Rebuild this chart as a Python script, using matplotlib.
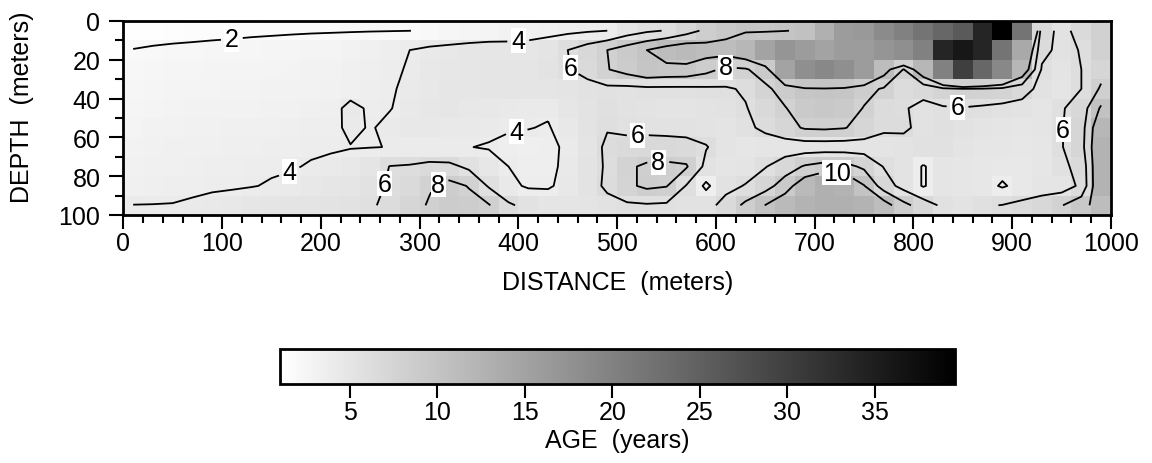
import numpy as np
import matplotlib
matplotlib.use('Agg')
import matplotlib.pyplot as plt
from matplotlib.ticker import MultipleLocator

plt.rcParams['font.family'] = ['Liberation Sans', 'DejaVu Sans']

# cell edges and centres (meters)
x_edges = np.arange(0, 1001, 20)
depth_edges = np.arange(0, 101, 10)
x_mid = np.arange(10, 1000, 20)
depth_mid = np.arange(5, 100, 10)

# age (years) per cell, one list per 10 m depth row, columns every 20 m
age_d05 = [1.2, 1.3, 1.4, 1.5, 1.6, 1.7, 1.75, 1.8, 1.85, 1.88,
           1.9, 1.92, 1.94, 1.96, 1.99, 2.15, 2.4, 2.6, 2.8, 3.0,
           3.2, 3.4, 3.6, 3.8, 4.0, 5.0, 5.7, 6.1, 7.2, 8.4,
           9.2, 9.8, 9.7, 9.9, 10.4, 13, 16, 16.5, 18.5, 20,
           22, 24, 26, 34, 39.5, 22, 6.8, 5.5, 6.6, 8.0]
age_d15 = [2.05, 2.2, 2.3, 2.35, 2.4, 2.4, 2.5, 2.55, 2.6, 2.7,
           2.8, 3.0, 3.3, 3.6, 4.0, 4.4, 4.6, 4.8, 4.9, 4.8,
           4.8, 5.2, 6.0, 7.0, 8.0, 9.0, 10.0, 11, 11.5, 11,
           11, 12, 15, 17, 16, 15, 16, 16, 17, 18,
           20, 34, 36, 34, 22, 14, 6.5, 5.5, 6.1, 8.0]
age_d25 = [2.3, 2.5, 2.6, 2.6, 2.7, 2.7, 2.8, 2.8, 2.9, 3.0,
           3.1, 3.3, 3.5, 3.8, 4.1, 4.5, 4.7, 4.9, 5.0, 5.0,
           5.0, 5.3, 5.9, 6.6, 7.9, 8.8, 9.8, 9.5, 9.4, 8.6,
           7.6, 7.8, 9.0, 15, 18, 19, 18, 16, 11, 7.9,
           12, 20, 30, 24, 19, 12, 5.8, 5.2, 6.0, 7.2]
age_d35 = [2.4, 2.6, 2.7, 2.8, 2.8, 2.9, 2.9, 3.0, 3.0, 3.1,
           3.2, 3.4, 3.6, 3.85, 4.3, 4.6, 4.8, 4.9, 5.0, 5.0,
           5.0, 5.0, 5.1, 5.4, 5.6, 5.5, 5.6, 5.6, 5.6, 5.7,
           5.8, 6.2, 7.6, 8.8, 9.7, 9.8, 9.6, 8.6, 7.8, 6.3,
           6.8, 7.6, 7.9, 7.8, 7.5, 6.8, 5.4, 5.0, 6.0, 8.3]
age_d45 = [2.6, 2.8, 2.9, 3.0, 3.0, 3.1, 3.1, 3.2, 3.2, 3.3,
           3.5, 4.4, 3.8, 3.95, 4.4, 4.7, 4.8, 4.6, 4.5, 4.4,
           4.3, 4.2, 4.8, 5.3, 5.8, 5.5, 5.3, 5.2, 5.2, 5.3,
           5.5, 5.9, 6.8, 7.9, 9.0, 9.3, 9.0, 7.9, 6.4, 6.2,
           5.4, 5.8, 5.9, 5.7, 5.5, 5.3, 5.0, 5.8, 7.0, 10.3]
age_d55 = [2.8, 3.0, 3.1, 3.2, 3.2, 3.3, 3.3, 3.4, 3.5, 3.6,
           3.6, 4.3, 3.9, 4.3, 4.5, 4.5, 4.4, 4.4, 4.3, 4.15,
           4.05, 3.9, 4.6, 5.3, 5.9, 5.6, 5.5, 5.4, 5.4, 5.3,
           5.2, 5.6, 6.4, 7.3, 8.2, 8.3, 8.1, 7.3, 6.3, 6.3,
           5.5, 5.8, 5.5, 5.2, 5.0, 4.9, 5.0, 5.9, 7.2, 12.0]
age_d65 = [3.0, 3.2, 3.3, 3.4, 3.4, 3.5, 3.5, 3.6, 3.7, 3.8,
           3.85, 3.95, 3.97, 4.02, 4.05, 4.08, 4.08, 4.03, 3.9, 3.6,
           3.5, 3.6, 4.3, 5.2, 6.3, 6.6, 6.8, 6.8, 6.6, 6.1,
           5.2, 4.9, 5.0, 5.0, 5.0, 5.0, 5.0, 5.1, 5.2, 5.3,
           5.6, 5.6, 5.2, 4.9, 4.8, 4.7, 4.8, 5.9, 7.3, 12.5]
age_d75 = [3.2, 3.3, 3.4, 3.5, 3.6, 3.7, 3.8, 3.85, 3.9, 4.1,
           4.3, 4.5, 5.0, 6.05, 6.2, 6.6, 6.5, 5.6, 4.7, 4.0,
           3.6, 3.6, 4.4, 5.3, 6.2, 7.7, 8.3, 8.4, 8.2, 5.5,
           5.0, 5.2, 5.9, 7.0, 8.2, 8.8, 8.7, 7.6, 5.9, 5.3,
           3.85, 5.0, 4.9, 4.7, 4.6, 4.6, 4.8, 5.6, 6.6, 12.5]
age_d85 = [3.4, 3.5, 3.6, 3.7, 3.8, 3.85, 3.95, 4.1, 4.3, 4.6,
           4.8, 5.0, 5.5, 6.2, 6.6, 7.8, 8.6, 7.9, 5.8, 4.4,
           3.8, 3.8, 4.5, 5.3, 6.3, 7.6, 8.4, 8.1, 5.9, 3.6,
           5.5, 6.1, 7.2, 9.0, 11.5, 13, 12.5, 10.1, 7.0, 5.3,
           3.85, 5.0, 4.8, 4.7, 3.8, 4.6, 5.0, 5.0, 6.4, 12.5]
age_d95 = [4.02, 4.03, 4.05, 4.2, 4.4, 4.6, 4.8, 5.0, 5.1, 5.2,
           5.3, 5.4, 5.8, 6.4, 7.2, 8.2, 8.8, 8.6, 8.15, 6.3,
           5.4, 5.0, 5.0, 5.2, 5.5, 5.7, 5.8, 5.7, 5.5, 5.4,
           6.6, 8.5, 10.05, 11.5, 12.5, 13, 13, 12.5, 11, 8.6,
           7.0, 5.6, 5.3, 5.8, 6.05, 6.5, 7.0, 7.9, 9.3, 11.0]

age = np.array([age_d05, age_d15, age_d25, age_d35, age_d45,
                age_d55, age_d65, age_d75, age_d85, age_d95])

levels = [2, 4, 6, 8, 10]
label_pos = [(110, 10), (400, 11), (400, 62), (169, 79),
             (454, 24), (521, 60), (265, 84), (844, 50), (955, 56),
             (609, 22), (542, 76), (320, 86), (722, 80)]
cbar_ticks = [5, 10, 15, 20, 25, 30, 35]
FS = 18

fig = plt.figure(figsize=(11.52, 4.64), dpi=100)
ax = fig.add_axes([123.3 / 1152, 1 - 216 / 464, 987.7 / 1152, 194 / 464])

mesh = ax.pcolormesh(x_edges, depth_edges, age, cmap='gray_r', vmin=1.0, vmax=39.6)
cs = ax.contour(x_mid, depth_mid, age, levels=levels, colors='black', linewidths=1.3)
lbls = ax.clabel(cs, fmt='%d', fontsize=FS, inline=True, inline_spacing=4, manual=label_pos)
for t in lbls:
    t.set_rotation(0)
    t.set_bbox(dict(facecolor='white', edgecolor='none', pad=0.3))

ax.set_xlim(0, 1000)
ax.set_ylim(100, 0)
ax.xaxis.set_major_locator(MultipleLocator(100))
ax.xaxis.set_minor_locator(MultipleLocator(20))
ax.yaxis.set_major_locator(MultipleLocator(20))
ax.yaxis.set_minor_locator(MultipleLocator(10))
ax.tick_params(which='major', direction='out', length=10, width=1.5, labelsize=FS)
ax.tick_params(which='minor', direction='out', length=6, width=1.5)
ax.tick_params(axis='x', which='major', pad=1.5)
ax.tick_params(axis='y', which='major', pad=6.5)
for s in ax.spines.values():
    s.set_linewidth(2)
ax.set_xlabel('DISTANCE  (meters)', fontsize=FS, labelpad=11)
ax.set_ylabel('DEPTH  (meters)', fontsize=FS)
ax.yaxis.set_label_coords(-0.09, 0.56)

cax = fig.add_axes([280 / 1152, 1 - 385 / 464, 675 / 1152, 35 / 464])
cb = fig.colorbar(mesh, cax=cax, orientation='horizontal', ticks=cbar_ticks)
cb.outline.set_linewidth(2)
cb.ax.tick_params(length=10, width=1.5, labelsize=FS, pad=1.5)
cb.set_label('AGE  (years)', fontsize=FS, labelpad=3)

fig.savefig('out.png', dpi=100)
